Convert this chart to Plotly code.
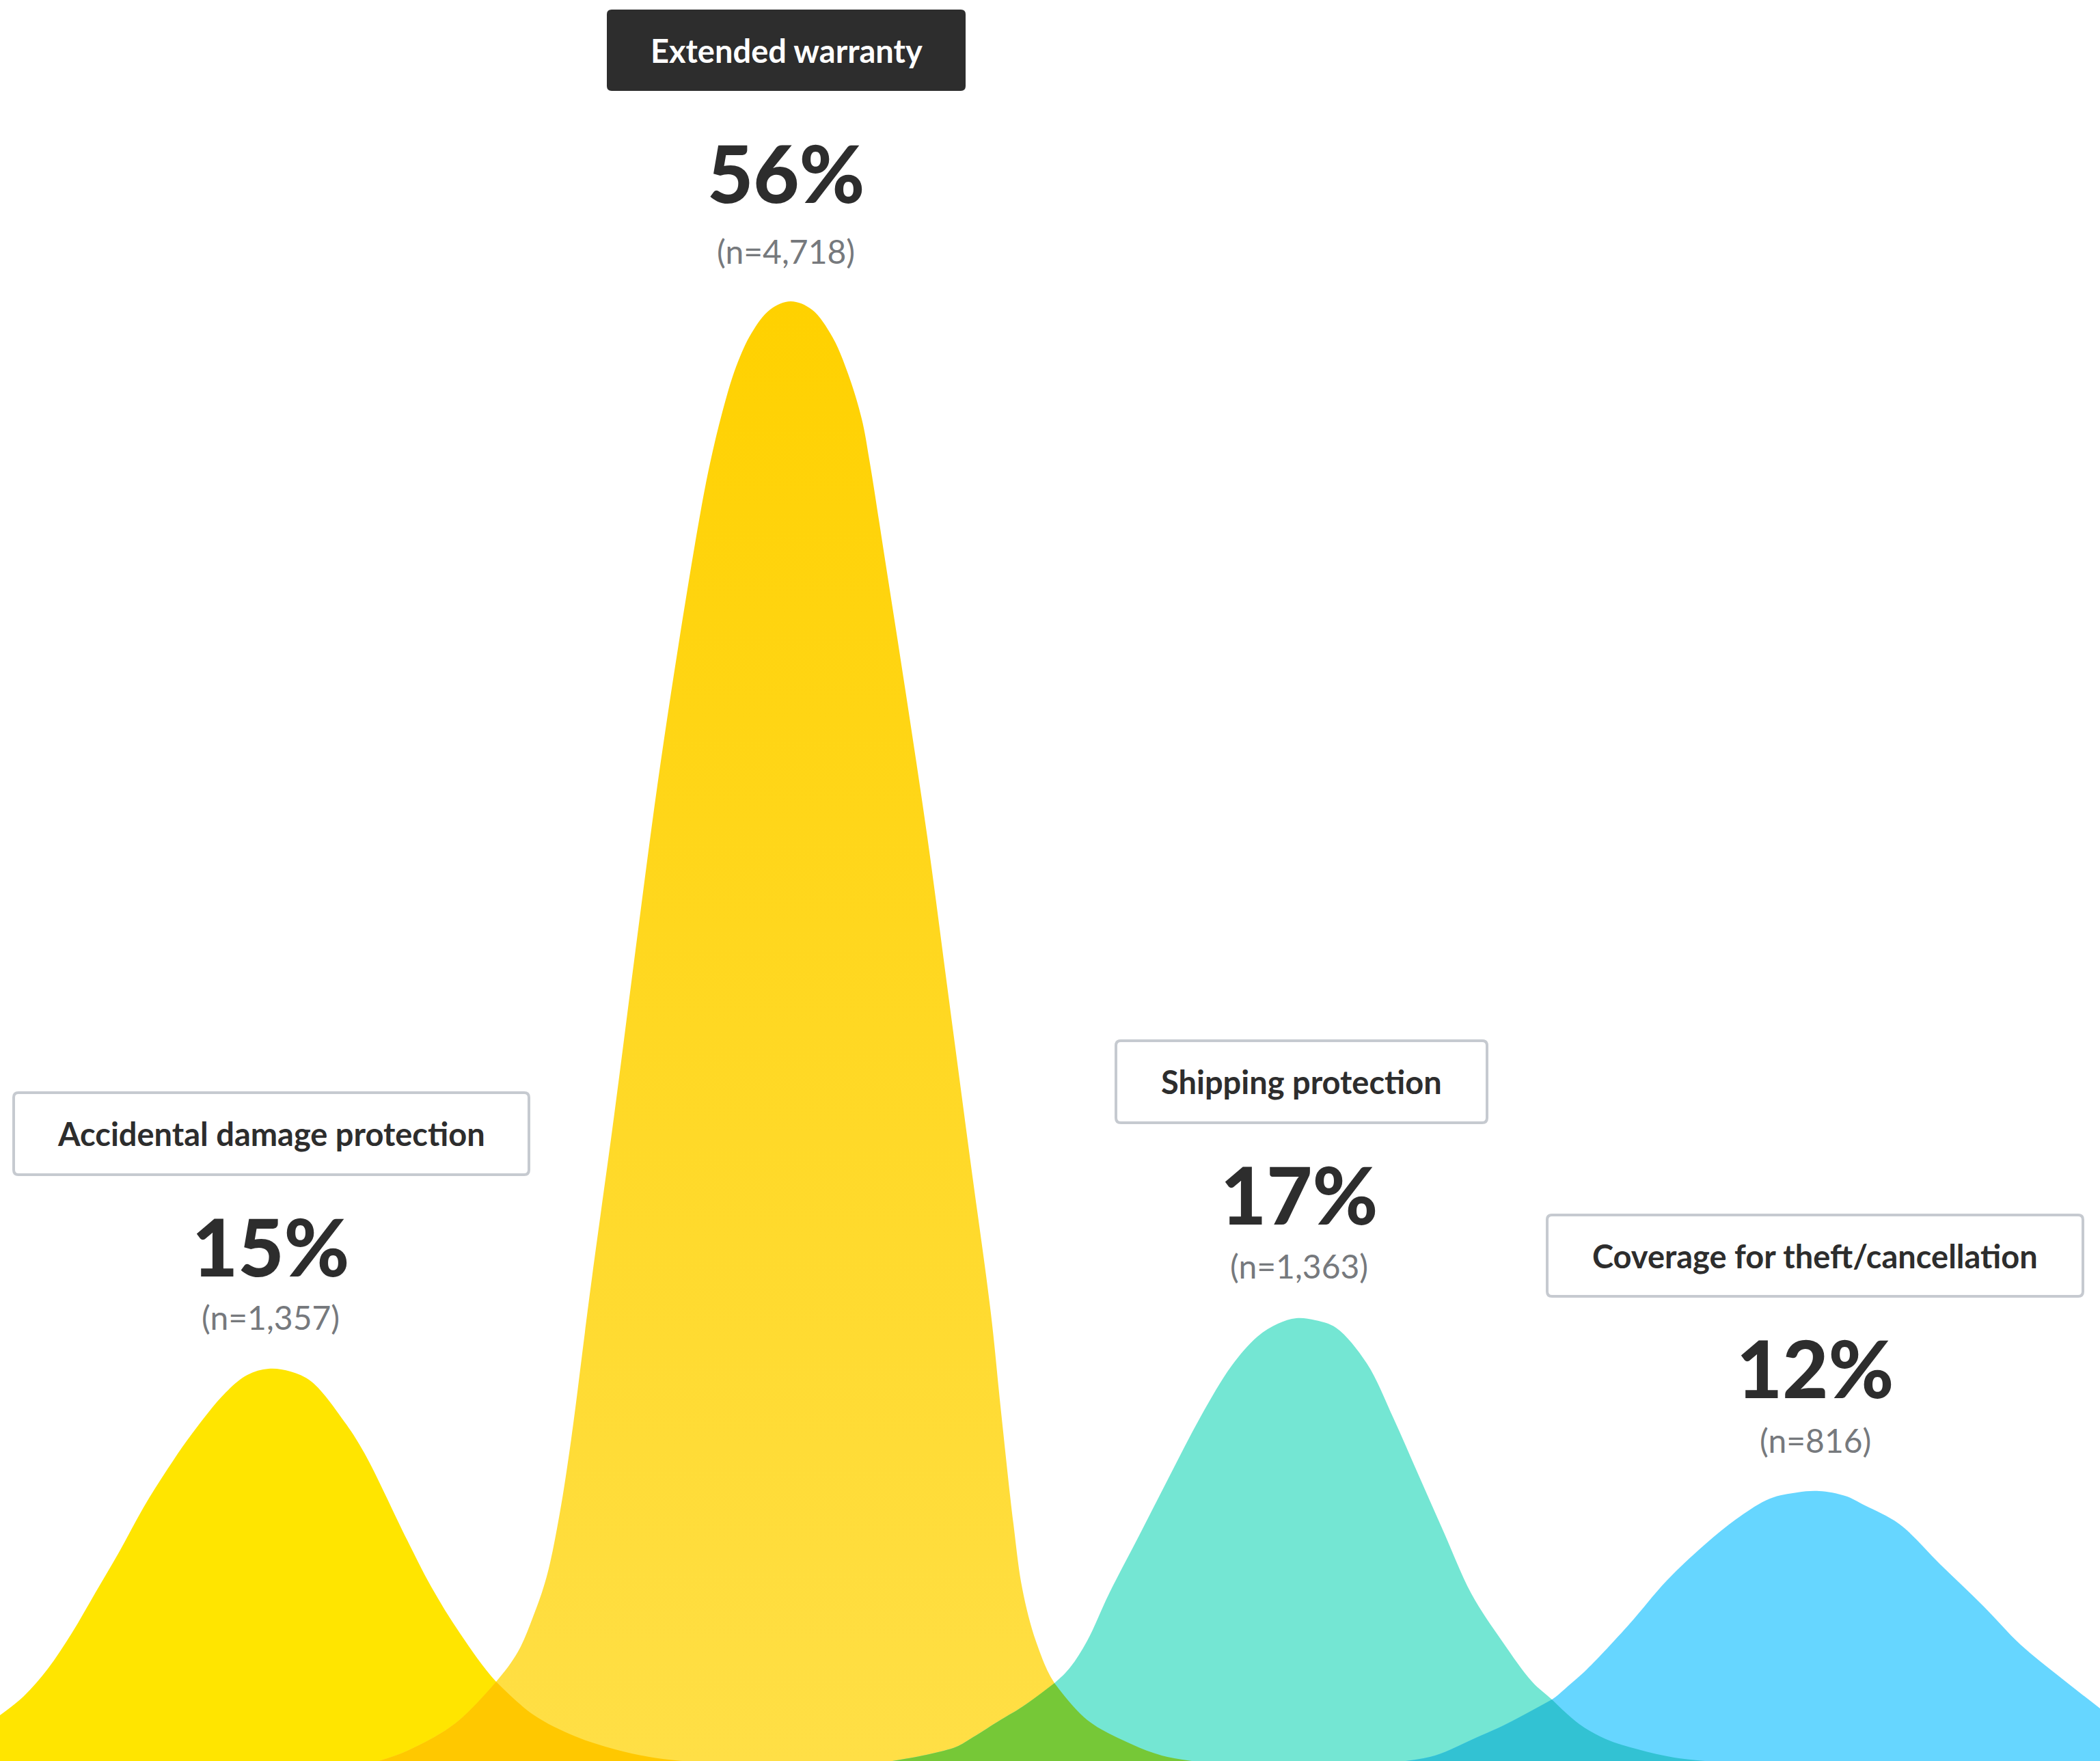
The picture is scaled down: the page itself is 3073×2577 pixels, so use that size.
import plotly.graph_objects as go

W, H = 3073, 2577

# ---- data ----
labels = ["Accidental damage protection", "Extended warranty",
          "Shipping protection", "Coverage for theft/cancellation"]
percents = [15, 56, 17, 12]
counts = [1357, 4718, 1363, 816]

# hill outlines (x position, height)
acc_x = [0, 35, 70, 105, 140, 175, 210, 245, 281, 330, 362, 393, 425, 456, 505, 533,
         596, 631, 673, 726, 780, 842, 900, 950, 998]
acc_h = [67, 95, 135, 187, 247, 307, 371, 427, 479, 539, 565, 574, 570, 555, 495, 451,
         323, 255, 187, 116, 68, 36, 17, 6, 0]

ext_x = [554, 596, 666, 726, 758, 780, 800, 819, 836, 856, 867, 899, 930, 962, 993, 1025,
         1039, 1057, 1077, 1100, 1127, 1157, 1188, 1218, 1241, 1261, 1273, 1294, 1325, 1357,
         1388, 1420, 1450, 1465, 1483, 1496, 1516, 1543, 1591, 1655, 1700, 1744]
ext_h = [0, 15, 55, 116, 160, 211, 270, 362, 472, 628, 713, 947, 1187, 1428, 1634, 1827,
         1899, 1974, 2040, 2090, 2124, 2136, 2124, 2084, 2030, 1964, 1899, 1765, 1566, 1352,
         1119, 878, 655, 510, 347, 252, 175, 114, 60, 25, 8, 0]

ship_x = [1306, 1360, 1400, 1421, 1464, 1497, 1543, 1566, 1591, 1623, 1668, 1712, 1757,
          1802, 1840, 1870, 1897, 1925, 1955, 2000, 2038, 2076, 2114, 2153, 2199, 2242,
          2271, 2311, 2350, 2397, 2450, 2495]
ship_h = [0, 10, 21, 33, 60, 80, 114, 137, 176, 245, 332, 418, 504, 578, 621, 640, 648,
          645, 634, 582, 504, 418, 332, 245, 174, 116, 90, 54, 32, 17, 5, 0]

cov_x = [2057, 2100, 2162, 2200, 2271, 2295, 2322, 2384, 2439, 2495, 2545, 2590, 2630,
         2662, 2700, 2729, 2779, 2840, 2902, 2957, 3013, 3073]
cov_h = [0, 8, 35, 52, 90, 110, 134, 200, 264, 317, 357, 384, 393, 395, 388, 374, 347,
         287, 227, 170, 124, 77]

# crossing x positions between neighbouring hills
cross_x = [726, 1543, 2271]

# ---- styling ----
C_ACC = "#FFE500"
C_EXT_TOP, C_EXT_BOT = "#FFD100", "#FFDF46"
C_SHIP = "#74E6D3"
C_COV = "#66D6FF"
C_O1, C_O2, C_O3 = "#FFC800", "#76C837", "#32C2D3"
DARK = "#2D2D2D"
GREY = "#76797D"
BORDER = "#C6CAD0"
FONT = "Lato"

fig = go.Figure()


def hill(x, h, color=None, grad=None):
    kw = dict(x=x, y=h, mode="lines", fill="tozeroy", line=dict(width=0, shape="spline"),
              hoverinfo="skip", showlegend=False)
    if grad:
        kw["fillgradient"] = dict(type="vertical", colorscale=[[0, grad[1]], [1, grad[0]]],
                                  start=0, stop=max(h))
    else:
        kw["fillcolor"] = color
    fig.add_trace(go.Scatter(**kw))


def overlap(lx, lh, rx, rh, cx, color):
    # part under the rising tail of the right-hand hill, up to the crossing
    hill([x for x in rx if x <= cx], [h for x, h in zip(rx, rh) if x <= cx], color)
    # part under the falling tail of the left-hand hill, from the crossing
    hill([x for x in lx if x >= cx], [h for x, h in zip(lx, lh) if x >= cx], color)


hill(acc_x, acc_h, C_ACC)
hill(ext_x, ext_h, grad=(C_EXT_TOP, C_EXT_BOT))
overlap(acc_x, acc_h, ext_x, ext_h, cross_x[0], C_O1)
hill(ship_x, ship_h, C_SHIP)
overlap(ext_x, ext_h, ship_x, ship_h, cross_x[1], C_O2)
hill(cov_x, cov_h, C_COV)
overlap(ship_x, ship_h, cov_x, cov_h, cross_x[2], C_O3)


def rrect(x0, y0, x1, y1, r):
    return (f"M {x0+r},{y0} L {x1-r},{y0} Q {x1},{y0} {x1},{y0+r} L {x1},{y1-r} "
            f"Q {x1},{y1} {x1-r},{y1} L {x0+r},{y1} Q {x0},{y1} {x0},{y1-r} "
            f"L {x0},{y0+r} Q {x0},{y0} {x0+r},{y0} Z")


# label boxes (pixel layout, y from top)
boxes = [(20, 1599, 774, 1719), (888, 14, 1413, 133), (1633, 1523, 2176, 1643), (2264, 1778, 3048, 1897)]
pct_cy = [1823, 252, 1747, 2001]
n_cy = [1927, 367, 1852, 2107]
pct_cx = [396, 1150, 1901, 2656]

shapes = []
annotations = []
for i, (bx0, by0, bx1, by1) in enumerate(boxes):
    dark = (i == 1)
    shapes.append(dict(type="path", path=rrect(bx0, H - by1, bx1, H - by0, 7),
                       fillcolor=DARK if dark else "white",
                       line=dict(color=DARK if dark else BORDER, width=0 if dark else 4),
                       layer="above"))
    annotations.append(dict(x=(bx0 + bx1) / 2, y=H - (by0 + by1) / 2, text=labels[i],
                            showarrow=False, xanchor="center", yanchor="middle",
                            font=dict(family=FONT, size=47, color="white" if dark else DARK,
                                      weight=700)))
    annotations.append(dict(x=pct_cx[i], y=H - pct_cy[i], text=f"{percents[i]}%",
                            showarrow=False, xanchor="center", yanchor="middle",
                            font=dict(family=FONT, size=116, color=DARK, weight=900)))
    annotations.append(dict(x=pct_cx[i], y=H - n_cy[i], text=f"(n={counts[i]:,})",
                            showarrow=False, xanchor="center", yanchor="middle",
                            font=dict(family=FONT, size=48, color=GREY, weight=400)))

fig.update_layout(
    width=W, height=H, margin=dict(l=0, r=0, t=0, b=0),
    paper_bgcolor="white", plot_bgcolor="white",
    xaxis=dict(range=[0, W], visible=False, fixedrange=True),
    yaxis=dict(range=[0, H], visible=False, fixedrange=True),
    shapes=shapes, annotations=annotations,
)

fig.write_html("out.html", config={"displayModeBar": False})
